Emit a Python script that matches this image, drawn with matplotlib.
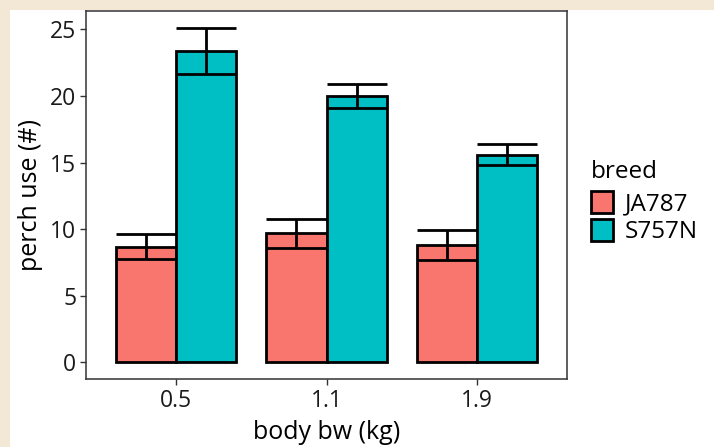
import numpy as np
import matplotlib.pyplot as plt
from matplotlib.patches import Patch, Rectangle

groups = ["0.5", "1.1", "1.9"]
breeds = ["JA787", "S757N"]
ja787_mean = [8.68, 9.68, 8.83]
ja787_se = [0.93, 1.10, 1.13]
s757n_mean = [23.40, 20.00, 15.58]
s757n_se = [1.72, 0.90, 0.80]

colors = ["#F8766D", "#00BFC4"]

plt.rcParams['font.family'] = ['Open Sans', 'DejaVu Sans']

fig = plt.figure(figsize=(7.14, 4.47), dpi=100, facecolor="#f3e7d6")
# white panel inside the beige border......................................
fig.patches.append(Rectangle((10 / 714, 0), 1, 1 - 10 / 447, transform=fig.transFigure,
                             facecolor="white", edgecolor="none", zorder=-5))
ax = fig.add_axes([86 / 714, 1 - 379 / 447, (567 - 86) / 714, (379 - 11) / 447])
ax.set_zorder(2)

x = np.arange(1, len(groups) + 1)
w = 0.4
means = [ja787_mean, s757n_mean]
ses = [ja787_se, s757n_se]
for i in range(2):
    xs = x + (i - 0.5) * w
    ax.bar(xs, means[i], width=w, color=colors[i], edgecolor="black", linewidth=2.0, zorder=2)
    m = np.array(means[i])
    s = np.array(ses[i])
    ax.vlines(xs, m - s, m + s, color="black", linewidth=2.0, zorder=3)
    ax.hlines(m - s, xs - w / 2, xs + w / 2, color="black", linewidth=2.0, zorder=3)
    ax.hlines(m + s, xs - w / 2, xs + w / 2, color="black", linewidth=2.0, zorder=3)

top = max(np.array(s757n_mean) + np.array(s757n_se))
ax.set_ylim(-0.05 * top, top * 1.05)
ax.set_xlim(0.4, 3.6)
ax.set_xticks(x)
ax.set_xticklabels(groups)
ax.set_yticks([0, 5, 10, 15, 20, 25])

for sp in ax.spines.values():
    sp.set_color("#333333")
    sp.set_linewidth(1.1)
ax.tick_params(axis="both", colors="#333333", length=4, width=1.0, labelsize=16.5,
               labelcolor="#1a1a1a", pad=3)

ax.set_xlabel("body bw (kg)", fontsize=18, color="black", labelpad=5)
ax.set_ylabel("perch use (#)", fontsize=18, color="black", labelpad=5)

handles = [Patch(facecolor=colors[i], edgecolor="black", linewidth=2.0) for i in range(2)]
leg = fig.legend(handles, breeds, title="breed", loc="upper left",
                 bbox_to_anchor=(569 / 714, 1 - 138 / 447), frameon=False,
                 fontsize=17.5, title_fontsize=17.5, handlelength=0.9, handleheight=1.0,
                 handletextpad=0.5, labelspacing=0.12, alignment="left")
leg._legend_box.sep = 5

fig.savefig("out.png", dpi=100, facecolor=fig.get_facecolor())
